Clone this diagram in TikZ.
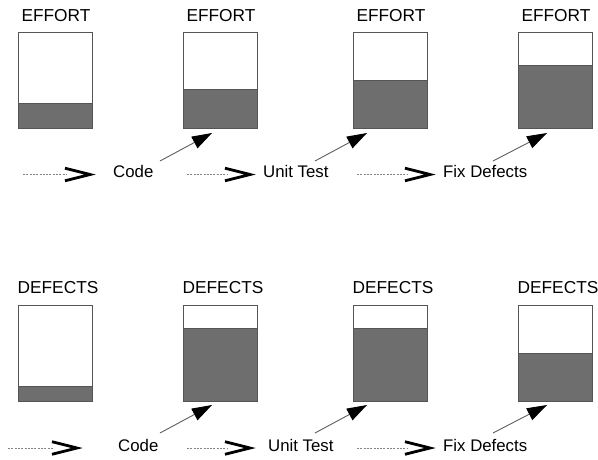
\documentclass[tikz,border=0pt]{standalone}
\usepackage{fontspec}
\setmainfont{Liberation Sans}
\usetikzlibrary{arrows.meta,calc}
\definecolor{barfill}{HTML}{6E6E6E}
\definecolor{boxline}{HTML}{555555}
\definecolor{flowgray}{HTML}{858585}
\definecolor{leadgray}{HTML}{5E5E5E}
\begin{document}
\begin{tikzpicture}[x=1pt,y=-1pt,
  gauge/.style={rectangle, draw=boxline, line width=0.9pt, fill=white,
    minimum width=74pt, minimum height=96pt, inner sep=0pt, outer sep=0pt,
    path picture={\filldraw[fill=barfill,draw=boxline,line width=0.9pt]
      (path picture bounding box.south west) rectangle
      ($(path picture bounding box.south east)!#1!(path picture bounding box.north east)$);}},
  heading/.style={anchor=base, inner sep=0pt, font=\fontsize{17.3}{20}\selectfont},
  stage/.style={anchor=base west, inner sep=0pt, font=\fontsize{16.8}{20}\selectfont},
  flow/.style={draw=flowgray, line width=1pt, dash pattern=on 2pt off 1.3pt},
  chev/.style={draw=black, line width=2.8pt, line join=miter, miter limit=10},
  lead/.style={draw=leadgray, line width=0.9pt, -{Triangle[length=20pt,width=13pt,black]}}
]
\useasboundingbox (0,0) rectangle (598,459);

% ---------- effort gauges ----------
\node[gauge=0.26]  (e1) at (55,80)  {};
\node[gauge=0.406] (e2) at (220,80) {};
\node[gauge=0.5]   (e3) at (390,80) {};
\node[gauge=0.656] (e4) at (555,80) {};
\foreach \b in {e1,e2,e3,e4}
  \node[heading] (\b-t) at ([xshift=1pt,yshift=11pt]\b.north) {EFFORT};

% ---------- defect gauges ----------
\node[gauge=0.156] (d1) at (55,353)  {};
\node[gauge=0.76]  (d2) at (220,353) {};
\node[gauge=0.76]  (d3) at (390,353) {};
\node[gauge=0.5]   (d4) at (555,353) {};
\foreach \b in {d1,d2,d3,d4}
  \node[heading] (\b-t) at ([xshift=3pt,yshift=11.5pt]\b.north) {DEFECTS};

% ---------- stage names ----------
\node[stage] (codeA) at (113,177.5) {Code};
\node[stage] (unitA) at (263,177.5) {Unit Test};
\node[stage] (fixA)  at (443,177.5) {Fix Defects};
\node[stage] (codeB) at (118,451) {Code};
\node[stage] (unitB) at (268,451) {Unit Test};
\node[stage] (fixB)  at (443,451) {Fix Defects};

% ---------- dotted flow arrows with open chevrons ----------
\foreach \n/\xs/\xv/\yy in {fa1/23/90/174.5, fa2/187/250/174.5, fa3/357/430/174.5,
                            fb1/8/77/448, fb2/187/250/448, fb3/357/430/448}{
  \coordinate (\n-s) at (\xs,\yy);
  \coordinate (\n-v) at (\xv,\yy);
  \draw[flow] (\n-s) -- ([xshift=-23pt]\n-v);
  \draw[chev] ([shift={(-25,-6.3)}]\n-v) -- (\n-v) -- ([shift={(-25,6.3)}]\n-v);
}

% ---------- leaders from each stage to the gauge it fills ----------
\foreach \n/\xs/\ys/\xt/\yt in {la1/160/161/212/133, la2/315/161/367/133, la3/493/161/547/133,
                                lb1/160/433/212/405, lb2/315/433/367/405, lb3/493/433/547/405}{
  \coordinate (\n-s) at (\xs,\ys);
  \coordinate (\n-t) at (\xt,\yt);
  \draw[lead] (\n-s) -- (\n-t);
}
\end{tikzpicture}
\end{document}
